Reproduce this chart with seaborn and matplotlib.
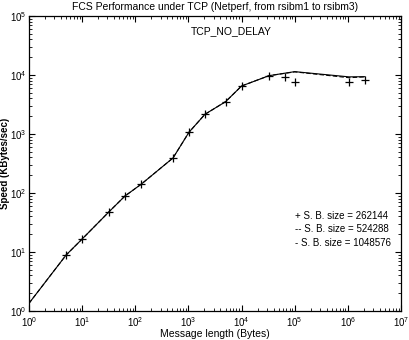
import matplotlib
matplotlib.use("Agg")
import matplotlib.pyplot as plt
import seaborn as sns
import pandas as pd
import numpy as np
from matplotlib.ticker import LogLocator, NullFormatter

# Data
len_plus = [5, 10, 32, 64, 128, 512, 1024, 2048, 5000, 10000, 32768, 65536, 100000, 1048576, 2097152]
speed_plus = [8.9, 16.6, 48, 89, 140, 392, 1070, 2160, 3530, 6510, 9730, 9140, 7700, 7700, 8230]

len_dash = [1, 5, 10, 32, 64, 128, 512, 1024, 2048, 5000, 10000, 32768, 100000, 1048576, 2097152]
speed_dash = [1.35, 8.9, 16.6, 48, 89, 140, 392, 1070, 2160, 3530, 6510, 9730, 11300, 9000, 9300]

len_solid = [1, 5, 10, 32, 64, 128, 512, 1024, 2048, 5000, 10000, 32768, 100000, 1048576, 2097152]
speed_solid = [1.35, 8.9, 16.6, 48, 89, 140, 392, 1070, 2160, 3530, 6510, 9730, 11400, 9300, 9360]

labels = ["+ S. B. size = 262144", "-- S. B. size = 524288", "- S. B. size = 1048576"]
title = "FCS Performance under TCP (Netperf, from rsibm1 to rsibm3)"
annot = "TCP_NO_DELAY"

sns.set_style("ticks")
plt.rcParams["font.family"] = ["Liberation Sans", "DejaVu Sans"]
plt.rcParams["mathtext.default"] = "regular"
plt.rcParams["text.color"] = "black"
plt.rcParams["axes.labelcolor"] = "black"
plt.rcParams["xtick.labelcolor"] = "black"
plt.rcParams["ytick.labelcolor"] = "black"

fig = plt.figure(figsize=(4.1, 3.4), dpi=100)
ax = fig.add_axes([29/410, 29/340, 372/410, 295/340])

df_dash = pd.DataFrame({"x": len_dash, "y": speed_dash})
df_solid = pd.DataFrame({"x": len_solid, "y": speed_solid})
df_plus = pd.DataFrame({"x": len_plus, "y": speed_plus})

sns.lineplot(data=df_dash, x="x", y="y", ax=ax, color="black", lw=0.8,
             linestyle=(0, (4, 2)), estimator=None, sort=False)
sns.lineplot(data=df_solid, x="x", y="y", ax=ax, color="black", lw=0.8,
             estimator=None, sort=False)
sns.scatterplot(data=df_plus, x="x", y="y", ax=ax, marker="+", color="black",
                s=40, linewidth=0.9)

ax.set_xscale("log")
ax.set_yscale("log")
ax.set_xlim(1, 1e7)
ax.set_ylim(1, 1e5)

ax.xaxis.set_major_locator(LogLocator(base=10, numticks=10))
ax.yaxis.set_major_locator(LogLocator(base=10, numticks=10))
ax.xaxis.set_minor_locator(LogLocator(base=10, subs=np.arange(2, 10), numticks=100))
ax.yaxis.set_minor_locator(LogLocator(base=10, subs=np.arange(2, 10), numticks=100))
ax.xaxis.set_minor_formatter(NullFormatter())
ax.yaxis.set_minor_formatter(NullFormatter())

ax.tick_params(which="both", direction="in", top=True, right=True, color="black")
ax.tick_params(which="major", length=4, width=0.8, labelsize=7, pad=2)
ax.tick_params(axis="x", which="major", pad=3)
ax.tick_params(which="minor", length=2, width=0.6)
for s in ax.spines.values():
    s.set_visible(True)
    s.set_color("black")
    s.set_linewidth(0.9)

ax.set_xlabel("Message length (Bytes)", fontsize=7.5, labelpad=0)
ax.set_ylabel("Speed (KBytes/sec)", fontsize=7, fontweight="bold")
ax.yaxis.set_label_coords(-19/372, 0.5)
ax.set_title(title, fontsize=7.5, pad=4)

ax.text(0.545, 0.965, annot, transform=ax.transAxes, fontsize=7.5,
        ha="center", va="top")

for i, lab in enumerate(labels):
    ax.text(266/372, (311-216)/295 - i * (13.5/295), lab, transform=ax.transAxes,
            fontsize=7, ha="left", va="center")

fig.savefig("out.png", dpi=100, facecolor="white")
